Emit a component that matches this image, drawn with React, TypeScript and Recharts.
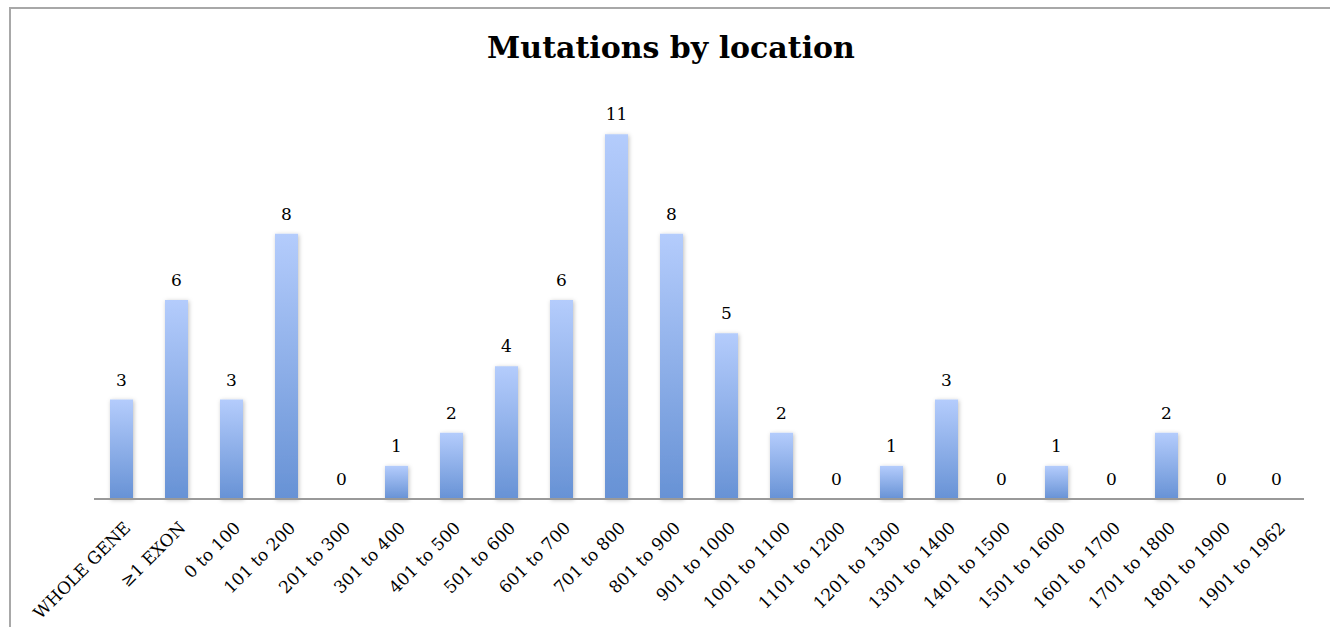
import React from "react";
import { ComposedChart, Bar, Line, XAxis, YAxis, LabelList } from "recharts";

const categories = [
  "WHOLE GENE", "≥1 EXON", "0 to 100", "101 to 200", "201 to 300", "301 to 400",
  "401 to 500", "501 to 600", "601 to 700", "701 to 800", "801 to 900", "901 to 1000",
  "1001 to 1100", "1101 to 1200", "1201 to 1300", "1301 to 1400", "1401 to 1500",
  "1501 to 1600", "1601 to 1700", "1701 to 1800", "1801 to 1900", "1901 to 1962",
];
const mutations = [3, 6, 3, 8, 0, 1, 2, 4, 6, 11, 8, 5, 2, 0, 1, 3, 0, 1, 0, 2, 0, 0];

const data = categories.map((c, i) => ({ name: c, value: mutations[i] }));

const FONT = "'DejaVu Serif', 'Liberation Serif', serif";

const Tick = (props: any) => {
  const { x, y, payload } = props;
  return (
    <g transform={`translate(${x + 10},${y + 22})`}>
      <text
        x={0}
        y={0}
        textAnchor="end"
        transform="rotate(-45)"
        fontFamily={FONT}
        fontSize={17}
        fill="#000"
      >
        {payload.value}
      </text>
    </g>
  );
};

export default function App() {
  return (
    <div style={{ position: "absolute", left: 0, top: 0, width: 1330, height: 627, background: "#fff", overflow: "hidden" }}>
      <div
        style={{
          position: "absolute",
          left: 9,
          top: 7,
          width: 1400,
          height: 700,
          borderLeft: "2px solid #a8a8a8",
          borderTop: "2px solid #a8a8a8",
        }}
      />
      <div
        style={{
          position: "absolute",
          left: 0,
          top: 28,
          width: 1342,
          textAlign: "center",
          fontFamily: FONT,
          fontWeight: "bold",
          fontSize: 30,
          color: "#000",
          lineHeight: "40px",
        }}
      >
        Mutations by location
      </div>
      <div style={{ position: "absolute", left: 0, top: 0 }}>
        <ComposedChart
          width={1330}
          height={627}
          data={data}
          margin={{ top: 101, right: 26, bottom: 0, left: 94 }}
          barSize={23}
        >
          <defs>
            <linearGradient id="barGrad" x1="0" y1="0" x2="0" y2="1">
              <stop offset="0%" stopColor="#b4ccfc" />
              <stop offset="100%" stopColor="#6792d5" />
            </linearGradient>
            <filter id="barShadow" x="-50%" y="-10%" width="200%" height="120%">
              <feDropShadow dx="1" dy="1" stdDeviation="2" floodColor="#000" floodOpacity="0.25" />
            </filter>
          </defs>
          <XAxis
            dataKey="name"
            interval={0}
            tickLine={false}
            axisLine={{ stroke: "#999999", strokeWidth: 2 }}
            tick={<Tick />}
            height={128}
          />
          <YAxis hide domain={[0, 12]} />
          <Bar
            dataKey="value"
            fill="url(#barGrad)"
            filter="url(#barShadow)"
            isAnimationActive={false}
          />
          <Line
            dataKey="value"
            stroke="none"
            dot={false}
            activeDot={false}
            isAnimationActive={false}
          >
            <LabelList
              dataKey="value"
              position="top"
              offset={14}
              fontFamily={FONT}
              fontSize={17}
              fill="#000"
            />
          </Line>
        </ComposedChart>
      </div>
    </div>
  );
}
